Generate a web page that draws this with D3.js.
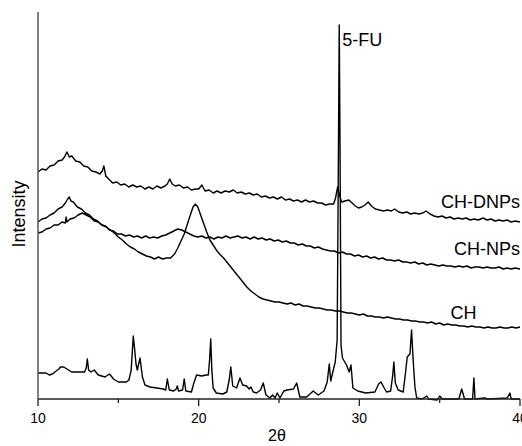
<!DOCTYPE html>
<html>
<head>
<meta charset="utf-8">
<script src="https://cdn.jsdelivr.net/npm/d3@7"></script>
<style>
  body { margin: 0; background: #fff; }
  text { font-family: "Liberation Sans", Arial, sans-serif; fill: #000; }
</style>
</head>
<body>
<svg class="svg-main" width="522" height="446"></svg>
<script>
// XRD patterns, [2theta, intensity (a.u., stacked offsets)]
const chDNPs = [
  [10.00,227],[10.25,230],[10.50,229],[10.75,233],[11.00,234],[11.25,238],[11.50,239],[11.65,242],[11.80,247],[11.95,242],
  [12.10,243],[12.35,238],[12.60,237],[12.85,233],[13.10,232],[13.35,228],[13.60,227],[13.85,225],[14.00,228],[14.10,233],
  [14.22,223],[14.40,220],[14.65,216],[14.90,217],[15.15,214],[15.40,215],[15.65,212],[15.90,214],[16.15,212],[16.40,213],
  [16.65,210],[16.90,212],[17.15,210],[17.40,213],[17.65,211],[17.90,213],[18.05,215],[18.20,220],[18.35,215],[18.55,213],
  [18.80,214],[19.05,211],[19.30,212],[19.55,209],[19.80,210],[20.00,210],[20.20,214],[20.40,208],[20.65,209],[20.90,206],
  [21.15,208],[21.40,206],[21.65,208],[21.90,207],[22.15,209],[22.40,206],[22.65,207],[22.90,205],[23.15,206],[23.40,204],
  [23.65,205],[23.90,202],[24.15,203],[24.40,201],[24.65,202],[24.90,200],[25.15,202],[25.40,199],[25.65,200],[25.90,198],
  [26.15,199],[26.40,197],[26.65,199],[26.90,197],[27.15,198],[27.40,196],[27.65,196],[27.90,194],[28.15,195],[28.40,195],
  [28.52,201],[28.65,212],[28.78,203],[28.90,197],[29.10,198],[29.35,199],[29.55,196],[29.75,193],[29.95,191],[30.15,192],
  [30.35,194],[30.55,197],[30.75,193],[31.00,190],[31.25,189],[31.50,188],[31.75,189],[32.00,188],[32.20,190],[32.45,187],
  [32.70,186],[32.95,187],[33.20,185],[33.45,186],[33.70,185],[33.95,186],[34.15,188],[34.40,185],[34.65,183],[34.90,182],
  [35.15,183],[35.40,181],[35.65,182],[35.90,180],[36.15,181],[36.40,180],[36.65,181],[36.90,179],[37.15,180],[37.40,179],
  [37.70,181],[37.95,179],[38.20,180],[38.45,178],[38.70,179],[38.95,178],[39.20,179],[39.45,177],[39.70,178],[40.00,177]
];

const chNPs = [
  [10.00,177],[10.25,180],[10.50,181],[10.75,184],[11.00,186],[11.25,190],[11.50,192],[11.70,196],[11.85,200],[11.95,202],
  [12.05,198],[12.20,197],[12.45,192],[12.70,190],[12.95,186],[13.20,184],[13.45,180],[13.70,178],[13.95,174],[14.20,173],
  [14.45,169],[14.70,168],[14.95,165],[15.20,165],[15.45,163],[15.70,164],[15.95,162],[16.20,163],[16.45,161],[16.70,163],
  [16.95,161],[17.20,162],[17.45,161],[17.70,163],[17.95,164],[18.20,166],[18.45,168],[18.70,170],[18.95,169],[19.20,167],
  [19.45,165],[19.70,163],[19.95,162],[20.20,163],[20.45,161],[20.70,162],[20.95,160],[21.20,162],[21.45,161],[21.70,163],
  [21.95,161],[22.20,162],[22.45,163],[22.70,161],[22.95,162],[23.20,160],[23.45,162],[23.70,160],[23.95,161],[24.20,159],
  [24.45,160],[24.70,158],[24.95,159],[25.20,157],[25.45,158],[25.70,156],[25.95,156],[26.20,154],[26.45,155],[26.70,153],
  [26.95,153],[27.20,151],[27.45,152],[27.70,150],[27.95,149],[28.20,148],[28.45,148],[28.70,146],[28.95,147],[29.20,145],
  [29.45,145],[29.70,143],[29.95,144],[30.20,142],[30.45,143],[30.70,141],[30.95,142],[31.20,140],[31.45,141],[31.70,139],
  [31.95,139],[32.20,138],[32.45,139],[32.70,137],[32.95,137],[33.20,136],[33.45,137],[33.70,135],[33.95,136],[34.20,134],
  [34.45,135],[34.70,134],[34.95,133],[35.20,134],[35.45,133],[35.70,133],[35.95,132],[36.20,133],[36.45,132],[36.70,133],
  [36.95,131],[37.20,132],[37.45,132],[37.70,131],[37.95,132],[38.20,131],[38.45,131],[38.70,132],[38.95,130],[39.20,131],
  [39.45,130],[39.70,131],[40.00,130]
];

const ch = [
  [10.00,166],[10.25,167],[10.50,170],[10.75,171],[11.00,174],[11.25,174],[11.50,177],[11.70,176],[11.75,182],[11.80,177],
  [12.00,180],[12.25,181],[12.50,184],[12.75,186],[13.00,184],[13.25,182],[13.50,178],[13.75,177],[14.00,174],[14.25,172],
  [14.50,169],[14.75,166],[15.00,162],[15.25,159],[15.50,155],[15.75,152],[16.00,150],[16.25,147],[16.50,145],[16.75,143],
  [17.00,142],[17.25,140],[17.50,142],[17.75,140],[18.00,141],[18.25,141],[18.50,145],[18.70,151],[18.90,158],[19.10,165],
  [19.30,175],[19.50,185],[19.65,192],[19.80,195],[19.95,192],[20.10,185],[20.30,176],[20.50,167],[20.70,159],[20.90,154],
  [21.10,149],[21.30,145],[21.55,141],[21.80,136],[22.00,132],[22.25,127],[22.50,122],[22.75,117],[23.00,112],[23.25,108],
  [23.50,105],[23.75,102],[24.00,100],[24.25,99],[24.50,98],[24.75,97],[25.00,97],[25.25,96],[25.50,95],[25.75,96],
  [26.00,94],[26.25,95],[26.50,93],[26.75,93],[27.00,92],[27.25,91],[27.50,91],[27.75,90],[28.00,89],[28.25,89],
  [28.50,88],[28.75,88],[29.00,87],[29.25,86],[29.50,86],[29.75,85],[30.00,84],[30.25,85],[30.50,83],[30.75,83],
  [31.00,82],[31.25,82],[31.50,81],[31.75,82],[32.00,81],[32.25,80],[32.50,80],[32.75,79],[33.00,79],[33.25,78],
  [33.50,78],[33.75,77],[34.00,77],[34.25,76],[34.50,77],[34.75,75],[35.00,76],[35.25,74],[35.50,75],[35.75,74],
  [36.00,74],[36.25,73],[36.50,73],[36.75,72],[37.00,73],[37.25,72],[37.50,72],[37.75,71],[38.00,72],[38.25,71],
  [38.50,71],[38.75,72],[39.00,71],[39.25,71],[39.50,72],[39.75,71],[40.00,72]
];

const fu = [
  [10.00,26],[10.50,26],[10.70,24],[10.90,25],[11.05,27],[11.30,30],[11.40,32],[11.60,32],[11.80,30],[12.10,27],
  [12.60,27],[12.90,27],[13.00,31],[13.07,40],[13.15,29],[13.30,27],[13.50,29],[13.75,24],[14.17,22],[14.45,25],
  [14.70,20],[15.00,17],[15.50,17],[15.66,19],[15.80,29],[15.93,63],[16.02,49],[16.10,35],[16.18,29],[16.35,41],
  [16.50,22],[16.66,14],[16.97,12],[17.40,11],[17.80,10],[17.95,9],[18.05,20],[18.17,9],[18.45,8],[18.60,10],
  [18.67,13],[18.75,8],[19.00,9],[19.10,20],[19.20,8],[19.55,7],[19.70,16],[19.87,24],[20.19,23],[20.45,24],
  [20.60,24],[20.68,39],[20.75,60],[20.82,29],[20.90,11],[21.10,6],[21.50,5],[21.75,7],[21.90,19],[22.00,32],
  [22.12,13],[22.36,11],[22.57,21],[22.74,14],[22.98,13],[23.15,10],[23.25,12],[23.40,7],[23.60,6],[23.85,9],
  [24.02,16],[24.19,4],[24.44,1],[24.60,4],[24.75,1],[24.89,6],[25.06,1],[25.30,8],[25.50,9],[25.90,10],
  [26.10,16],[26.30,2],[26.72,2],[27.13,8],[27.44,4],[27.80,8],[28.00,17],[28.13,35],[28.22,18],[28.35,27],
  [28.50,37],[28.62,59],[28.70,249],[28.75,374],[28.80,249],[28.86,54],[28.95,41],[29.20,34],[29.37,27],[29.48,34],
  [29.60,11],[29.90,8],[30.40,6],[30.97,7],[31.20,15],[31.35,17],[31.55,11],[31.70,7],[31.95,8],[32.08,24],
  [32.15,37],[32.24,16],[32.42,9],[32.73,7],[32.88,27],[32.98,42],[33.15,45],[33.25,69],[33.35,39],[33.46,12],
  [33.57,1],[33.90,0],[34.20,3],[34.30,0],[34.85,-1],[35.00,3],[35.15,0],[36.20,0],[36.37,10],[36.55,0],
  [37.05,0],[37.13,21],[37.20,0],[37.80,1],[38.00,0],[39.20,1],[39.37,6],[39.45,0],[40.00,0]
];

const series = [chDNPs, chNPs, ch, fu];
const labels = [
  { text: "CH-DNPs", at: 40, y: 191 },
  { text: "CH-NPs", at: 40, y: 144 },
  { text: "CH", at: 37.3, y: 80 }
];
const xTicks = [10, 15, 20, 25, 30, 35, 40];
const xLabels = [10, 20, 30, 40];

const svg = d3.select(".svg-main");

const x = d3.scaleLinear().domain([10, 40]).range([38, 520]);
const y = d3.scaleLinear().domain([0, 387]).range([399, 12]);

const line = d3.line()
  .x((d) => x(d[0]))
  .y((d) => y(d[1]));

svg.append("g")
  .selectAll("path")
  .data(series)
  .enter().append("path")
    .attr("d", line)
    .attr("fill", "none")
    .attr("stroke", "#000")
    .attr("stroke-width", 1.4)
    .attr("stroke-linejoin", "round");

// axes
const xAxis = svg.append("g").attr("transform", "translate(0,399)");
xAxis.append("line")
  .attr("x1", x(10)).attr("x2", x(40))
  .attr("stroke", "#222").attr("stroke-width", 1.3);
xAxis.selectAll(".tick")
  .data(xTicks)
  .enter().append("line")
    .attr("x1", (d) => x(d)).attr("x2", (d) => x(d))
    .attr("y1", 0)
    .attr("y2", (d) => (d % 10 === 0 ? 7 : 4))
    .attr("stroke", "#222").attr("stroke-width", 1.3);
xAxis.selectAll("text")
  .data(xLabels)
  .enter().append("text")
    .attr("x", (d) => x(d))
    .attr("y", 24)
    .attr("text-anchor", "middle")
    .attr("font-size", 14)
    .text((d) => d);

svg.append("line")
  .attr("x1", 38).attr("x2", 38)
  .attr("y1", y(387)).attr("y2", y(0))
  .attr("stroke", "#555").attr("stroke-width", 1.5);

svg.append("text")
  .attr("x", x(25) - 2)
  .attr("y", 441)
  .attr("text-anchor", "middle")
  .attr("font-size", 16)
  .text("2θ");

svg.append("text")
  .attr("transform", "translate(25,214) rotate(-90)")
  .attr("text-anchor", "middle")
  .attr("font-size", 18)
  .text("Intensity");

svg.selectAll(".series-label")
  .data(labels)
  .enter().append("text")
    .attr("class", "series-label")
    .attr("x", (d) => x(d.at))
    .attr("y", (d) => y(d.y))
    .attr("text-anchor", "end")
    .attr("font-size", 18)
    .text((d) => d.text);

svg.append("text")
  .attr("x", x(28.75) + 3)
  .attr("y", 46)
  .attr("font-size", 18)
  .text("5-FU");
</script>
</body>
</html>
